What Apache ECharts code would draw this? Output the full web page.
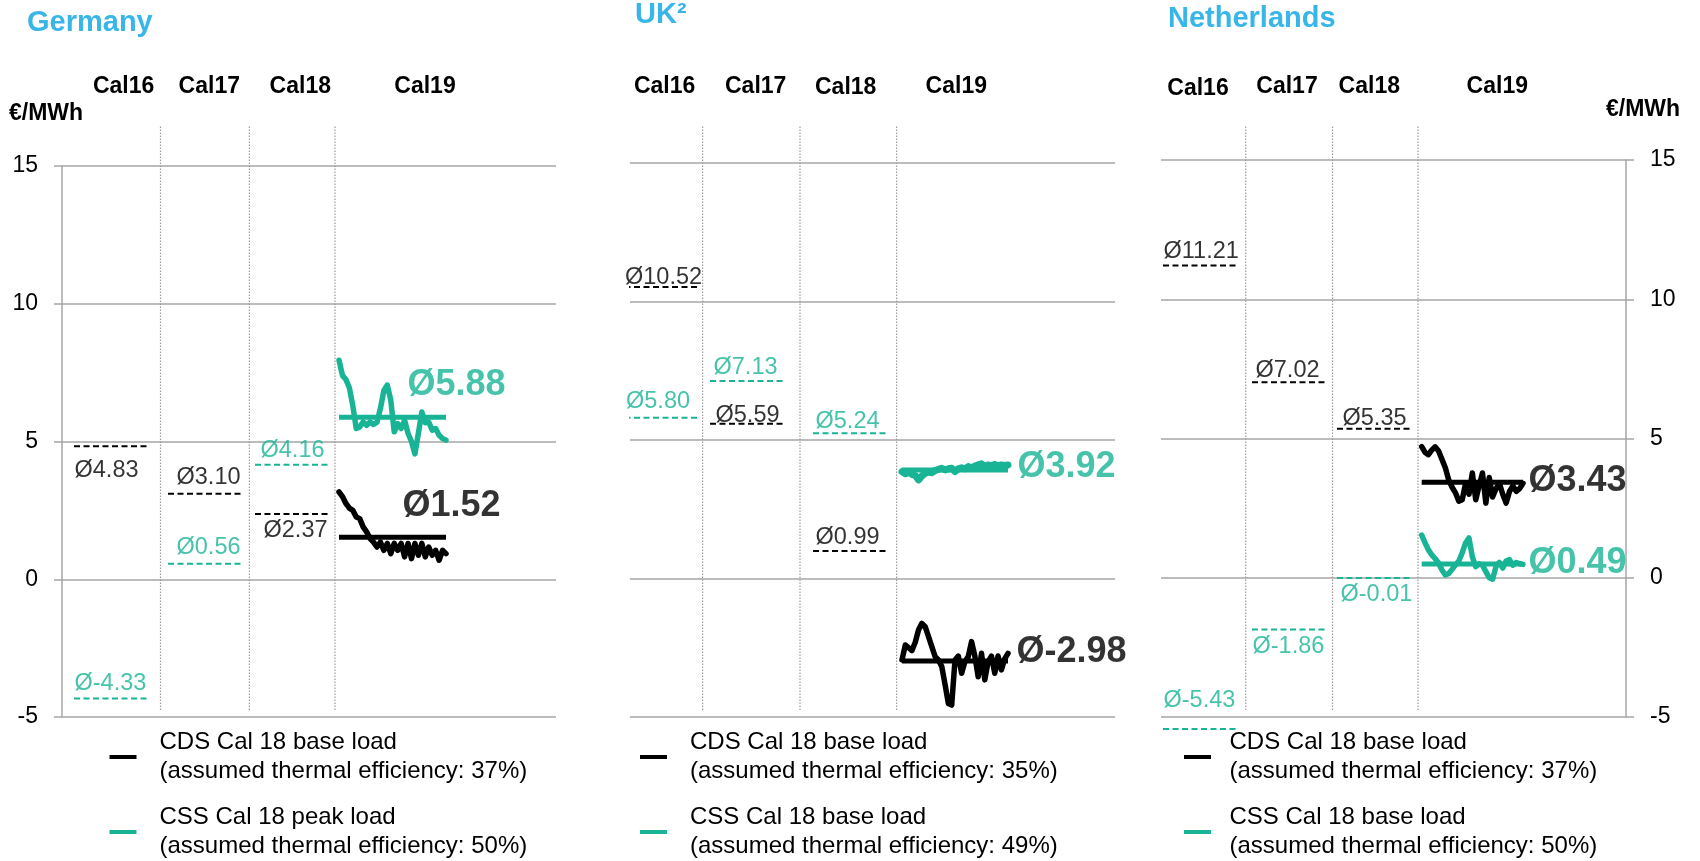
<!DOCTYPE html>
<html><head><meta charset="utf-8">
<script src="https://cdn.jsdelivr.net/npm/echarts@6/dist/echarts.min.js"></script>
<style>html,body{margin:0;padding:0;background:#fff}#c{width:1700px;height:861px}</style>
</head><body><div id="c"></div>
<script>
// ---------------- DATA ----------------
const calendars = ['Cal16', 'Cal17', 'Cal18', 'Cal19'];
const yTicks = [-5, 0, 5, 10, 15];

// Averages per calendar (Cal16, Cal17, Cal18, Cal19)
const deCdsAvg = [4.83, 3.10, 2.37, 1.52];
const deCssAvg = [-4.33, 0.56, 4.16, 5.88];
const ukCdsAvg = [10.52, 5.59, 0.99, -2.98];
const ukCssAvg = [5.80, 7.13, 5.24, 3.92];
const nlCdsAvg = [11.21, 7.02, 5.35, 3.43];
const nlCssAvg = [-5.43, -1.86, -0.01, 0.49];

// Cal19 trading history
const deCds19 = [3.17, 3.00, 2.75, 2.58, 2.50, 2.26, 2.20, 1.90, 1.72, 1.48, 1.35, 1.17, 1.35, 1.05, 1.30, 0.93,
                 1.30, 1.05, 1.30, 0.81, 1.30, 0.75, 1.30, 0.87, 1.30, 0.81, 1.17, 0.87, 1.05, 0.69, 1.05, 0.93];
const deCss19 = [7.95, 7.40, 7.25, 6.95, 6.30, 5.47, 5.53, 5.71, 5.59, 5.71, 5.62, 5.70, 6.20, 6.85, 7.05, 6.50,
                 5.35, 5.65, 5.47, 5.77, 5.30, 5.00, 4.55, 5.30, 6.07, 5.68, 5.71, 5.41, 5.47, 5.23, 5.11, 5.05];
const ukCds19 = [-2.94, -2.40, -2.50, -2.60, -2.30, -1.85, -1.62, -1.74, -2.10, -2.46, -2.82, -2.94, -3.18, -3.83, -4.51, -4.57,
                 -2.94, -2.80, -3.42, -3.00, -2.82, -2.28, -2.80, -3.55, -2.70, -3.66, -3.00, -2.80, -3.42, -2.80, -3.30, -2.90, -2.70];
const ukCss19 = [3.86, 3.78, 3.84, 3.76, 3.72, 3.56, 3.70, 3.80, 3.84, 3.82, 3.90, 3.94, 3.98, 3.92, 3.96, 3.98,
                 3.86, 3.96, 4.00, 3.96, 4.04, 4.00, 4.06, 4.10, 4.14, 4.04, 4.10, 4.06, 4.12, 4.06, 4.10, 4.08, 4.10];
const nlCds19 = [4.71, 4.50, 4.42, 4.59, 4.70, 4.55, 4.25, 3.95, 3.51, 3.25, 3.05, 2.75, 2.80, 3.39, 3.00, 3.76,
                 2.80, 3.30, 3.76, 2.68, 3.60, 2.90, 3.20, 3.39, 3.00, 2.68, 3.10, 3.30, 3.10, 3.20, 3.39];
const nlCss19 = [1.53, 1.25, 1.00, 0.82, 0.68, 0.53, 0.28, 0.10, 0.15, 0.30, 0.46, 0.60, 0.90, 1.25, 1.43, 0.75,
                 0.40, 0.50, 0.45, 0.22, 0.00, -0.05, 0.40, 0.55, 0.35, 0.60, 0.65, 0.45, 0.55, 0.50, 0.48];

const legendDE = ['CDS Cal 18 base load\n(assumed thermal efficiency: 37%)', 'CSS Cal 18 peak load\n(assumed thermal efficiency: 50%)'];
const legendUK = ['CDS Cal 18 base load\n(assumed thermal efficiency: 35%)', 'CSS Cal 18 base load\n(assumed thermal efficiency: 49%)'];
const legendNL = ['CDS Cal 18 base load\n(assumed thermal efficiency: 37%)', 'CSS Cal 18 base load\n(assumed thermal efficiency: 50%)'];
const unitLabel = '€/MWh';

// ---------------- STYLE / LAYOUT ----------------
const TEAL = '#19b496', BLACK = '#000000', BLUE = '#38b6e8', GRIDC = '#a6a6a6', SEPC = '#9c9c9c';
const FONT = '"Liberation Sans", Arial, sans-serif';

const panels = [
  { id: 'de', title: 'Germany', titleLeft: 27, titleTop: 8,
    grid: { left: 62, top: 166, width: 494, height: 551 }, axisPos: 'left',
    dash: [[12, 86], [106, 182], [193, 269]], span: [277, 384], seps: [98.5, 187.4, 273],
    heads: [123.6, 209.3, 300.3, 425], headY: [87, 87, 87, 87],
    cds: { avg: deCdsAvg, ts: deCds19, lbl: [[0, 24], [8, -16], [8, 17]], big: [-44, -31] },
    css: { avg: deCssAvg, ts: deCss19, lbl: [[0, -15], [8, -16], [5, -14]], big: [-39, -32] },
    legend: legendDE, legendPos: [109.5, 728, 18] },
  { id: 'uk', title: 'UK\u00B2', titleLeft: 635, titleTop: 0,
    grid: { left: 630, top: 163, width: 485, height: 554 }, axisPos: null,
    dash: [[-5.5, 69.3], [80, 156], [183, 259]], span: [272, 378], seps: [72.6, 170, 266.6],
    heads: [664.6, 755.7, 845.7, 956.3], headY: [87, 87, 88, 87],
    cds: { avg: ukCdsAvg, ts: ukCds19, lbl: [[0, -10], [5, -8], [2, -14]], big: [8, -9] },
    css: { avg: ukCssAvg, ts: ukCss19, lbl: [[1, -16], [3, -13], [2, -12]], big: [9, -3], wide: true },
    legend: legendUK, legendPos: [640, 728, 18] },
  { id: 'nl', title: 'Netherlands', titleLeft: 1168, titleTop: 4,
    grid: { left: 1161, top: 160, width: 465, height: 557 }, axisPos: 'right',
    dash: [[2, 75], [91, 164], [176, 248.5]], span: [260.7, 362], seps: [84.7, 171.5, 257],
    heads: [1198, 1287, 1369.3, 1497.3], headY: [89, 87, 87, 87],
    cds: { avg: nlCdsAvg, ts: nlCds19, lbl: [[0, -14], [3, -12], [5, -10]], big: [5, -1] },
    css: { avg: nlCssAvg, ts: nlCss19, lbl: [[0, -28], [0, 17], [3, 16]], big: [5, -1] },
    legend: legendNL, legendPos: [1184, 728, 13.5] }
];
const SEP_TOP_PX = 126, SEP_BOTTOM_PX = 710;

// ---------------- BUILD OPTION ----------------
const grids = [], xAxes = [], yAxes = [], series = [], legends = [], titles = [], graphics = [];

panels.forEach((p, i) => {
  const g = p.grid;
  grids.push({ left: g.left, top: g.top, width: g.width, height: g.height });
  xAxes.push({ gridIndex: i, type: 'value', min: 0, max: g.width, show: false });
  const showAx = !!p.axisPos;
  yAxes.push({
    gridIndex: i, type: 'value', min: yTicks[0], max: yTicks[yTicks.length - 1], interval: 5,
    position: p.axisPos || 'left',
    axisLine: { show: showAx, onZero: false, lineStyle: { color: GRIDC, width: 1.5 } },
    axisTick: { show: showAx, length: 8, lineStyle: { color: GRIDC, width: 1.5 } },
    axisLabel: { show: showAx, fontSize: 23, color: '#000', margin: 24, fontFamily: FONT },
    splitLine: { show: true, lineStyle: { color: GRIDC, width: 1.5 } }
  });
  const perUnit = g.height / (yTicks[yTicks.length - 1] - yTicks[0]);
  const pxToVal = px => yTicks[yTicks.length - 1] - (px - g.top) / perUnit;

  // dotted separators between calendar columns
  p.seps.forEach(s => series.push({
    type: 'line', xAxisIndex: i, yAxisIndex: i, silent: true, clip: false, symbol: 'none',
    lineStyle: { color: SEPC, width: 1.2, type: [1.5, 1.5] },
    data: [[s, pxToVal(SEP_BOTTOM_PX)], [s, pxToVal(SEP_TOP_PX)]], z: 1
  }));

  [['cds', BLACK], ['css', TEAL]].forEach(([k, col]) => {
    const d = p[k];
    // dashed average lines for Cal16..Cal18
    for (let c = 0; c < 3; c++) {
      const v = d.avg[c];
      const [a, b] = p.dash[c];
      series.push({
        type: 'line', xAxisIndex: i, yAxisIndex: i, silent: true, clip: false, symbol: 'none',
        lineStyle: { color: col, width: 2, type: [6, 3.5] }, data: [[a, v], [b, v]], z: 3
      });
      series.push({
        type: 'scatter', xAxisIndex: i, yAxisIndex: i, silent: true, clip: false, symbolSize: 1,
        itemStyle: { color: 'rgba(0,0,0,0)' },
        label: { show: true, position: 'right', distance: 0, offset: d.lbl[c], color: col,
                 fontSize: 23.5, fontFamily: FONT, formatter: () => 'Ø' + v.toFixed(2) },
        data: [[a, v]], z: 4
      });
    }
    // Cal19 history line
    const n = d.ts.length, [s0, s1] = p.span;
    series.push({
      name: p.id + '-' + k, type: 'line', xAxisIndex: i, yAxisIndex: i, clip: false, symbol: 'none',
      color: col, itemStyle: { color: col },
      lineStyle: { color: col, width: d.wide ? 7 : 5.5, join: 'round', cap: 'round' },
      data: d.ts.map((v, j) => [s0 + j * (s1 - s0) / (n - 1), v]), z: 5
    });
    // Cal19 average line
    const av = d.avg[3];
    series.push({
      type: 'line', xAxisIndex: i, yAxisIndex: i, silent: true, clip: false, symbol: 'none',
      lineStyle: { color: col, width: 5 }, data: [[s0, av], [s1, av]], z: 5
    });
    series.push({
      type: 'scatter', xAxisIndex: i, yAxisIndex: i, silent: true, clip: false, symbolSize: 1,
      itemStyle: { color: 'rgba(0,0,0,0)' },
      label: { show: true, position: 'right', distance: 0, offset: d.big, color: col,
               fontSize: 36, fontWeight: 'bold', fontFamily: FONT, formatter: () => 'Ø' + av.toFixed(2) },
      data: [[s1, av]], z: 6
    });
  });

  // legend
  const names = [p.id + '-cds', p.id + '-css'];
  legends.push({
    left: p.legendPos[0], top: p.legendPos[1], orient: 'vertical', itemGap: 17,
    itemWidth: 27, itemHeight: 4, icon: 'rect', selectedMode: false, padding: 0,
    data: names, formatter: nm => p.legend[names.indexOf(nm)],
    textStyle: { fontSize: 24, lineHeight: 29, color: '#000', fontFamily: FONT, padding: [0, 0, 0, p.legendPos[2]] }
  });

  titles.push({ text: p.title, left: p.titleLeft, top: p.titleTop, padding: 0,
    textStyle: { fontSize: 29, fontWeight: 'bold', color: BLUE, fontFamily: FONT } });

  calendars.forEach((c, j) => graphics.push({
    type: 'text', x: p.heads[j], y: p.headY[j],
    style: { text: c, fontSize: 23, fontWeight: 'bold', fontFamily: FONT, fill: '#000', align: 'center', verticalAlign: 'middle' }
  }));
});

graphics.push({ type: 'text', x: 9, y: 114,
  style: { text: unitLabel, fontSize: 23, fontWeight: 'bold', fontFamily: FONT, fill: '#000', align: 'left', verticalAlign: 'middle' } });
graphics.push({ type: 'text', x: 1606, y: 110,
  style: { text: unitLabel, fontSize: 23, fontWeight: 'bold', fontFamily: FONT, fill: '#000', align: 'left', verticalAlign: 'middle' } });

const chart = echarts.init(document.getElementById('c'), null, { renderer: 'canvas' });
chart.setOption({
  backgroundColor: '#ffffff', animation: false,
  title: titles, grid: grids, xAxis: xAxes, yAxis: yAxes, legend: legends, series: series, graphic: graphics
});
</script></body></html>
